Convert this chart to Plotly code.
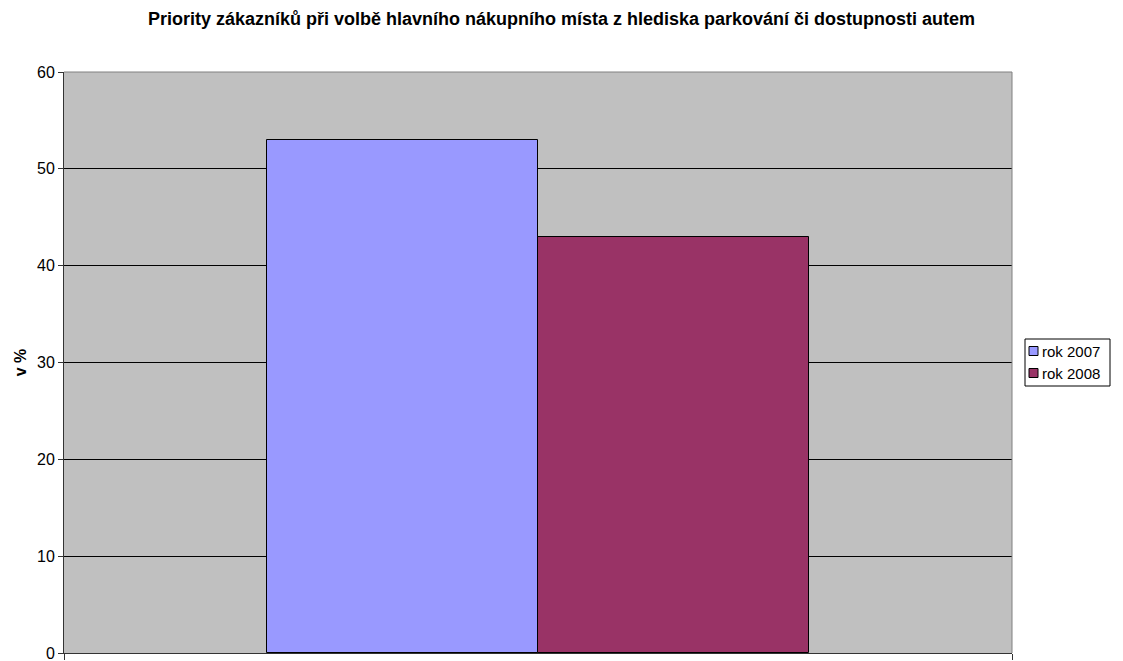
import plotly.graph_objects as go

series_names = ["rok 2007", "rok 2008"]
values = [53, 43]
colors = ["#9999FF", "#993366"]
y_ticks = [0, 10, 20, 30, 40, 50, 60]
title = "Priority zákazníků při volbě hlavního nákupního místa z hlediska parkování či dostupnosti autem"

W, H = 1123, 661
L, R, T, B = 64, 111, 72, 8
PW, PH = W - L - R, H - T - B

def px(x):
    return (x - L) / PW

def py(y):
    return (H - B - y) / PH

fig = go.Figure()
bar_w = 0.286
offsets = [-bar_w, 0]
for name, v, c, off in zip(series_names, values, colors, offsets):
    fig.add_trace(go.Bar(
        x=[0.5], y=[v], name=name, width=bar_w, offset=off, showlegend=False,
        marker=dict(color=c, line=dict(color="black", width=1)),
    ))

fig.update_layout(
    width=W, height=H,
    margin=dict(l=L, r=R, t=T, b=B, autoexpand=False),
    paper_bgcolor="white", plot_bgcolor="#C0C0C0",
    font=dict(family="Arial, Liberation Sans, sans-serif", size=15, color="black"),
    title=dict(text="<b>" + title + "</b>", x=0.5, xanchor="center", y=1 - 19 / H, yanchor="middle",
               font=dict(size=18, color="black")),
    showlegend=False,
    bargap=0, bargroupgap=0,
)
fig.update_xaxes(range=[0, 1], tickvals=[0, 1], showticklabels=False, ticks="outside", ticklen=6,
                 tickcolor="#333333", showgrid=False, zeroline=False, showline=True,
                 linecolor="#333333", linewidth=1, fixedrange=True, automargin=False)
fig.update_yaxes(range=[0, 60], tickvals=y_ticks, ticks="outside", ticklen=5, tickcolor="#333333",
                 tickfont=dict(size=16), automargin=False, ticklabeloverflow="allow",
                 showgrid=True, gridcolor="black", gridwidth=1, zeroline=False, showline=True,
                 linecolor="#333333", linewidth=1,
                 title=dict(text="<b>v %</b>", font=dict(size=16), standoff=6))
fig.add_shape(type="line", xref="paper", yref="paper", x0=0, x1=1, y0=1, y1=1,
              line=dict(color="#808080", width=1))
fig.add_shape(type="line", xref="paper", yref="paper", x0=1, x1=1, y0=0, y1=1,
              line=dict(color="#808080", width=1))

# legend (drawn manually to match the compact original)
fig.add_shape(type="rect", xref="paper", yref="paper", x0=px(1025), x1=px(1110), y0=py(386), y1=py(339),
              line=dict(color="black", width=1), fillcolor="white", layer="above")
row_y = [351, 373]
for name, c, ry in zip(series_names, colors, row_y):
    fig.add_shape(type="rect", xref="paper", yref="paper", x0=px(1029), x1=px(1038),
                  y0=py(ry + 4.5), y1=py(ry - 4.5), line=dict(color="black", width=1),
                  fillcolor=c, layer="above")
    fig.add_annotation(xref="paper", yref="paper", x=px(1040), y=py(ry), text=name, showarrow=False,
                       xanchor="left", yanchor="middle", font=dict(size=15, color="black"))

fig.write_html("out.html")
